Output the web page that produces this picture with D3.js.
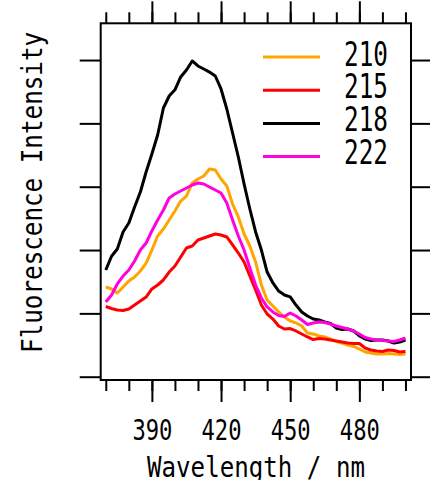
<!DOCTYPE html>
<html>
<head>
<meta charset="utf-8">
<script src="https://cdn.jsdelivr.net/npm/d3@7/dist/d3.min.js"></script>
<style>
  html, body { margin: 0; padding: 0; background: #fff; }
  svg { display: block; }
  text { font-family: "DejaVu Sans Mono", "Liberation Mono", monospace; fill: #000; }
</style>
</head>
<body>
<svg id="chart" width="430" height="480"></svg>
<script>
// Emission wavelengths (nm), sampled every 2.5 nm
const wavelengths = d3.range(370, 500.1, 2.5);

// Excitation wavelength of each spectrum (legend labels)
const seriesNames = ["210", "215", "218", "222"];
const seriesColors = ["#FFA500", "#FF0000", "#000000", "#FF00E0"];

// Fluorescence intensity (arbitrary units) per emission wavelength
const ex210 = [141.6, 138.5, 132.2, 141.6, 151.1, 157.4, 166.9, 179.5, 200.0, 222.2,
  233.2, 247.4, 261.6, 277.4, 285.3, 305.8, 312.2, 316.9, 328.0, 326.4,
  312.2, 301.1, 272.7, 252.2, 225.3, 206.4, 181.1, 144.8, 121.1, 111.6,
  102.2, 94.3, 88.0, 84.9, 80.1, 69.0, 67.4, 64.3, 62.7, 59.5,
  55.6, 53.2, 50.0, 47.7, 43.7, 39.0, 37.4, 35.8, 35.8, 36.6,
  35.8, 35.1, 35.8];
const ex215 = [110.8, 107.7, 105.3, 104.5, 106.9, 113.2, 119.5, 125.8, 138.5, 144.8,
  152.7, 165.3, 174.8, 189.0, 203.2, 206.4, 215.8, 219.0, 222.2, 225.3,
  223.7, 220.6, 208.0, 195.3, 181.1, 159.0, 136.9, 113.2, 99.0, 91.1,
  80.1, 75.3, 76.1, 72.2, 67.4, 62.7, 58.7, 60.3, 59.5, 58.0,
  56.4, 54.8, 53.2, 52.4, 52.4, 45.3, 42.2, 40.6, 39.8, 42.2,
  41.4, 39.0, 39.8];
const ex218 = [168.5, 190.2, 201.6, 228.5, 242.7, 268.0, 291.6, 323.2, 351.6, 381.6,
  424.3, 443.2, 453.0, 473.3, 484.3, 498.5, 490.6, 485.9, 481.0, 474.8,
  454.3, 422.7, 384.8, 346.9, 304.3, 264.8, 228.5, 200.0, 165.3, 148.0,
  135.3, 129.0, 126.0, 113.2, 102.2, 95.8, 91.1, 89.5, 86.4, 84.0,
  76.9, 74.5, 75.3, 72.2, 64.3, 59.5, 57.2, 58.0, 58.0, 56.4,
  53.2, 54.8, 58.0];
const ex222 = [118.0, 129.0, 146.4, 159.0, 168.5, 182.7, 200.0, 211.1, 230.1, 247.4,
  263.2, 282.2, 288.5, 293.2, 298.0, 302.7, 305.8, 304.3, 299.5, 294.8,
  290.1, 274.3, 247.4, 222.2, 200.0, 171.6, 144.8, 124.3, 110.1, 102.2,
  96.6, 95.1, 100.6, 95.8, 89.5, 82.4, 84.8, 86.4, 85.6, 83.2,
  80.1, 77.7, 75.3, 72.2, 67.4, 61.9, 59.5, 58.0, 57.2, 56.4,
  55.6, 58.0, 61.1];
const seriesValues = [ex210, ex215, ex218, ex222];

// Axis ticks
const xMajorTicks = [390, 420, 450, 480];
const xMinorTicks = d3.range(370, 500.1, 10);
const yTicks = [0, 100, 200, 300, 400, 500];

const svg = d3.select("#chart");
const frame = { left: 100.7, right: 411, top: 23.3, bottom: 380 };

const x = d3.scaleLinear().domain([367.8, 502.4]).range([frame.left, frame.right]);
const y = d3.scaleLinear().domain([-5.2, 558]).range([frame.bottom, frame.top]);

// Tick marks on all four sides, pointing outward
function styleAxis(g) {
  g.select(".domain").remove();
  g.selectAll(".tick line").attr("stroke", "#000").attr("stroke-width", 2);
}
svg.append("g").attr("transform", `translate(0,${frame.bottom})`)
  .call(d3.axisBottom(x).tickValues(xMinorTicks).tickSize(11).tickFormat(""))
  .call(styleAxis);
const bottomMajor = svg.append("g").attr("transform", `translate(0,${frame.bottom})`)
  .call(d3.axisBottom(x).tickValues(xMajorTicks).tickSize(22).tickFormat(d3.format("d")))
  .call(styleAxis);
bottomMajor.selectAll(".tick text")
  .attr("font-size", 29)
  .attr("font-family", "DejaVu Sans Mono")
  .attr("dy", null)
  .attr("y", 60)
  .attr("textLength", 40)
  .attr("lengthAdjust", "spacingAndGlyphs");

svg.append("g").attr("transform", `translate(0,${frame.top})`)
  .call(d3.axisTop(x).tickValues(xMinorTicks).tickSize(11).tickFormat(""))
  .call(styleAxis);
svg.append("g").attr("transform", `translate(0,${frame.top})`)
  .call(d3.axisTop(x).tickValues(xMajorTicks).tickSize(22).tickFormat(""))
  .call(styleAxis);
svg.append("g").attr("transform", `translate(${frame.left},0)`)
  .call(d3.axisLeft(y).tickValues(yTicks).tickSize(21).tickFormat(""))
  .call(styleAxis);
svg.append("g").attr("transform", `translate(${frame.right},0)`)
  .call(d3.axisRight(y).tickValues(yTicks).tickSize(21).tickFormat(""))
  .call(styleAxis);

// Spectra
const line = d3.line()
  .x((d, i) => x(wavelengths[i]))
  .y(d => y(d));
const plot = svg.append("g");
seriesValues.forEach((vals, k) => {
  plot.append("path")
    .datum(vals)
    .attr("d", line)
    .attr("fill", "none")
    .attr("stroke", seriesColors[k])
    .attr("stroke-width", 3)
    .attr("stroke-linejoin", "round");
});

// Plot frame
svg.append("rect")
  .attr("x", frame.left).attr("y", frame.top)
  .attr("width", frame.right - frame.left)
  .attr("height", frame.bottom - frame.top)
  .attr("fill", "none").attr("stroke", "#000").attr("stroke-width", 2);

// Legend
const legend = svg.append("g");
seriesNames.forEach((name, k) => {
  const ly = 57 + k * 33.2;
  legend.append("line")
    .attr("x1", 263).attr("x2", 320)
    .attr("y1", ly).attr("y2", ly)
    .attr("stroke", seriesColors[k]).attr("stroke-width", 3);
  legend.append("text")
    .attr("x", 344).attr("y", 65.7 + k * 32.6)
    .attr("font-size", 34)
    .attr("textLength", 44)
    .attr("lengthAdjust", "spacingAndGlyphs")
    .text(name);
});

// Axis titles
svg.append("text")
  .attr("x", 256).attr("y", 476.5)
  .attr("text-anchor", "middle")
  .attr("font-size", 29)
  .attr("textLength", 218)
  .attr("lengthAdjust", "spacingAndGlyphs")
  .text("Wavelength / nm");
svg.append("text")
  .attr("transform", "translate(41.7,192.4) rotate(-90)")
  .attr("text-anchor", "middle")
  .attr("font-size", 29)
  .attr("textLength", 321)
  .attr("lengthAdjust", "spacingAndGlyphs")
  .text("Fluorescence Intensity");
</script>
</body>
</html>
